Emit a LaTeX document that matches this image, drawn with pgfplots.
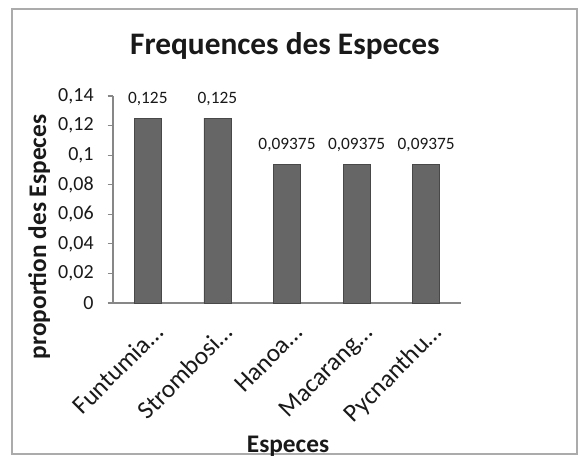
\documentclass[border=0pt]{standalone}
\usepackage{fontspec}
\setmainfont{Carlito}
\usepackage{pgfplots}
\usepackage{pgfplotstable}
\pgfplotsset{compat=1.18}
\definecolor{barfill}{RGB}{102,102,102}
\definecolor{baredge}{RGB}{72,72,72}
\definecolor{axgray}{RGB}{135,135,135}
\definecolor{txt}{RGB}{25,25,25}
\pgfplotstableread{
x y lab
0 0.125 0,125
1 0.125 0,125
2 0.09375 0,09375
3 0.09375 0,09375
4 0.09375 0,09375
}\freqtable
\begin{document}
\begin{tikzpicture}[x=0.75pt,y=0.75pt]
\path[use as bounding box] (0,0) rectangle (579,462);
\draw[axgray!70, line width=0.9pt] (12,8) rectangle (577,453);
\node[font=\fontsize{23.5}{28}\selectfont\bfseries, text=txt, anchor=base] at (285,407) {Frequences des Especes};
\begin{axis}[
  at={(84.75pt,119.25pt)}, anchor=south west,
  scale only axis, width=261pt, height=155.25pt,
  xmin=-0.5, xmax=4.5, ymin=0, ymax=0.14,
  axis x line*=bottom, axis y line*=left,
  axis line style={axgray, line width=0.8pt},
  tick align=outside,
  major tick length=4pt,
  minor tick length=6.5pt,
  tick style={axgray, line width=0.8pt},
  ytick={0,0.02,0.04,0.06,0.08,0.1,0.12,0.14},
  yticklabels={0,{0,02},{0,04},{0,06},{0,08},{0,1},{0,12},{0,14}},
  yticklabel style={font=\fontsize{15}{17}\selectfont, text=txt, xshift=-7pt},
  xtick=\empty,
  minor xtick={-0.5,0.5,1.5,2.5,3.5,4.5},
  xlabel={Especes},
  xlabel style={font=\fontsize{19}{22}\selectfont\bfseries, text=txt, at={(axis description cs:0.503,-0.722)}, anchor=base},
  ylabel={proportion des Especes},
  ylabel style={font=\fontsize{19}{22}\selectfont\bfseries, text=txt, at={(axis description cs:-0.1925,0.319)}, anchor=base},
  clip=false,
]
\addplot[ybar, bar width=20.25pt, fill=barfill, draw=baredge, line width=0.5pt,
  nodes near coords, point meta=explicit symbolic,
  every node near coord/.append style={font=\fontsize{13}{15}\selectfont, text=txt, anchor=base, yshift=11pt}]
  table[x=x, y=y, meta=lab] {\freqtable};
\tikzset{catlab/.style={rotate=45, anchor=base east, inner sep=0pt, text=txt, font=\fontsize{19}{22}\selectfont}}
\node[catlab] at ([xshift=12.75pt,yshift=-23.25pt]axis cs:0,0) {Funtumia\ldots};
\node[catlab] at ([xshift=12.75pt,yshift=-23.25pt]axis cs:1,0) {Strombosi\ldots};
\node[catlab] at ([xshift=12.75pt,yshift=-23.25pt]axis cs:2,0) {Hanoa\ldots};
\node[catlab] at ([xshift=12.75pt,yshift=-23.25pt]axis cs:3,0) {Macarang\ldots};
\node[catlab] at ([xshift=12.75pt,yshift=-23.25pt]axis cs:4,0) {Pycnanthu\ldots};
\end{axis}
\end{tikzpicture}
\end{document}
